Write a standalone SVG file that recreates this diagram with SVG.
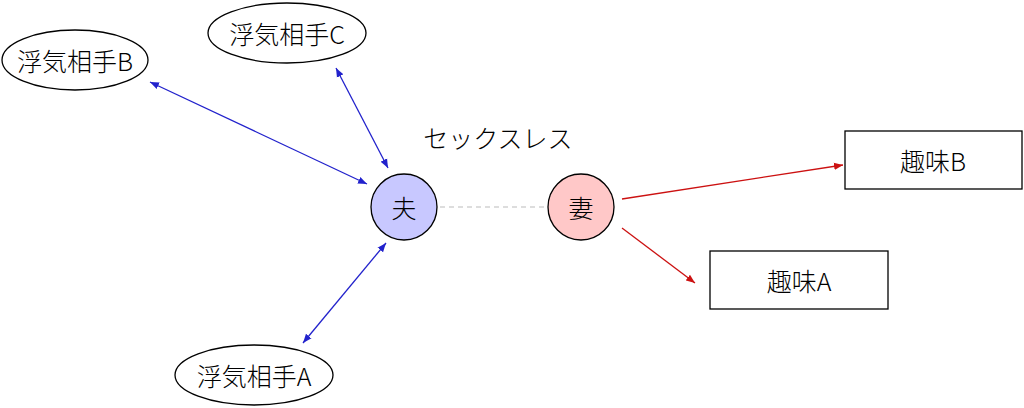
<svg xmlns="http://www.w3.org/2000/svg" width="1024" height="408" viewBox="0 0 1024 408">
<style>
text{font-family:"Noto Sans CJK JP","Noto Sans",sans-serif;font-size:25px;font-weight:300;fill:#000;text-anchor:middle;dominant-baseline:central}
.n{fill:#fff;stroke:#000;stroke-width:1.3}
.b{stroke:#2222cc;stroke-width:1.3;fill:none;marker-start:url(#ab);marker-end:url(#ab)}
.r{stroke:#cc1111;stroke-width:1.3;fill:none;marker-end:url(#ar)}
</style>
<defs>
<marker id="ab" viewBox="0 0 10 10" refX="10" refY="5" markerWidth="9" markerHeight="9" markerUnits="userSpaceOnUse" orient="auto-start-reverse"><path d="M0,1 L10,5 L0,9 z" fill="#2222cc"/></marker>
<marker id="ar" viewBox="0 0 10 10" refX="10" refY="5" markerWidth="9" markerHeight="9" markerUnits="userSpaceOnUse" orient="auto"><path d="M0,1 L10,5 L0,9 z" fill="#cc1111"/></marker>
</defs>
<rect width="1024" height="408" fill="#fff"/>
<g id="connectors">
<line x1="440" y1="207" x2="545" y2="207" stroke="#bbb" stroke-width="1.2" stroke-dasharray="5,4"/>
<line class="b" x1="150" y1="82" x2="367" y2="184"/>
<line class="b" x1="336" y1="68" x2="388" y2="168"/>
<line class="b" x1="303" y1="343" x2="386" y2="243"/>
<line class="r" x1="622" y1="199" x2="843" y2="165"/>
<line class="r" x1="622" y1="228" x2="695" y2="283"/>
</g>
<g id="label-sexless"><text x="498" y="137">セックスレス</text></g>
<g id="uwakiB"><ellipse class="n" cx="75" cy="60" rx="73" ry="30"/><text x="75" y="60">浮気相手B</text></g>
<g id="uwakiC"><ellipse class="n" cx="287" cy="33" rx="79" ry="30"/><text x="287" y="33">浮気相手C</text></g>
<g id="uwakiA"><ellipse class="n" cx="254" cy="375" rx="79" ry="30"/><text x="254" y="375">浮気相手A</text></g>
<g id="otto"><circle cx="404" cy="207" r="33" fill="#c8c8ff" stroke="#000" stroke-width="1.3"/><text x="404" y="207">夫</text></g>
<g id="tsuma"><circle cx="581" cy="207" r="33" fill="#ffc8c8" stroke="#000" stroke-width="1.3"/><text x="581" y="207">妻</text></g>
<g id="shumiB"><rect class="n" x="845" y="131" width="177" height="58"/><text x="933" y="160">趣味B</text></g>
<g id="shumiA"><rect class="n" x="710" y="251" width="178" height="58"/><text x="799" y="280">趣味A</text></g>
</svg>
